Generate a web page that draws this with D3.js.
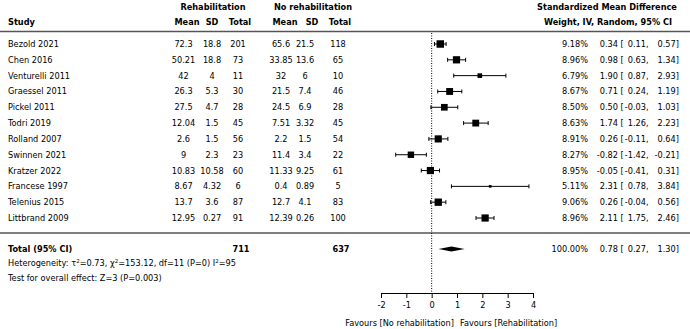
<!DOCTYPE html>
<html>
<head>
<meta charset="utf-8">
<script src="https://cdn.jsdelivr.net/npm/d3@7"></script>
<style>
  body { margin: 0; background: #fff; }
  text { font-family: "DejaVu Sans", sans-serif; font-size: 8.2px; fill: #000; }
  .b { font-weight: bold; }
</style>
</head>
<body>
<script>
/* ---------------------------------- data ---------------------------------- */
const studies = ["Bezold 2021", "Chen 2016", "Venturelli 2011", "Graessel 2011", "Pickel 2011", "Todri 2019",
  "Rolland 2007", "Swinnen 2021", "Kratzer 2022", "Francese 1997", "Telenius 2015", "Littbrand 2009"];
const rehabMean = [72.3, 50.21, 42, 26.3, 27.5, 12.04, 2.6, 9, 10.83, 8.67, 13.7, 12.95];
const rehabSD = [18.8, 18.8, 4, 5.3, 4.7, 1.5, 1.5, 2.3, 10.58, 4.32, 3.6, 0.27];
const rehabN = [201, 73, 11, 30, 28, 45, 56, 23, 60, 6, 87, 91];
const ctrlMean = [65.6, 33.85, 32, 21.5, 24.5, 7.51, 2.2, 11.4, 11.33, 0.4, 12.7, 12.39];
const ctrlSD = [21.5, 13.6, 6, 7.4, 6.9, 3.32, 1.5, 3.4, 9.25, 0.89, 4.1, 0.26];
const ctrlN = [118, 65, 10, 46, 28, 45, 54, 22, 61, 5, 83, 100];
const weights = [9.18, 8.96, 6.79, 8.67, 8.50, 8.63, 8.91, 8.27, 8.95, 5.11, 9.06, 8.96];
const smd = [0.34, 0.98, 1.90, 0.71, 0.50, 1.74, 0.26, -0.82, -0.05, 2.31, 0.26, 2.11];
const ciLow = [0.11, 0.63, 0.87, 0.24, -0.03, 1.26, -0.11, -1.42, -0.41, 0.78, -0.04, 1.75];
const ciHigh = [0.57, 1.34, 2.93, 1.19, 1.03, 2.23, 0.64, -0.21, 0.31, 3.84, 0.56, 2.46];
const total = { n1: 711, n2: 637, weight: 100, smd: 0.78, lo: 0.27, hi: 1.30 };
const axisTicks = [-2, -1, 0, 1, 2, 3, 4];

/* -------------------------------- document -------------------------------- */
const width = 690, height = 329;
const svg = d3.select("body").append("svg").attr("width", width).attr("height", height);

// scales
const x = d3.scaleLinear().domain([-2, 4]).range([381, 533]);
const y = d3.scalePoint().domain(studies).range([44, 218]);
const sq = d3.scaleLinear().domain([5, 9.2]).range([2.5, 7.5]);

const cols = { study: 8, m1: 183.5, sd1: 212, n1: 238, m2: 281, sd2: 305, n2: 338, w: 588, est: 618 };

// headers
svg.append("text").attr("class", "b").attr("x", 213).attr("y", 10).attr("text-anchor", "middle").text("Rehabilitation");
svg.append("text").attr("class", "b").attr("x", 313).attr("y", 10).attr("text-anchor", "middle").text("No rehabilitation");
svg.append("text").attr("class", "b").attr("x", cols.study).attr("y", 25).text("Study");
[["Mean", 187], ["SD", 212], ["Total", 240], ["Mean", 285], ["SD", 312], ["Total", 340]]
  .forEach(([t, cx]) => svg.append("text").attr("class", "b").attr("x", cx).attr("y", 25).attr("text-anchor", "middle").text(t));
svg.append("text").attr("class", "b").attr("x", 607).attr("y", 10).attr("text-anchor", "middle").text("Standardized Mean Difference");
svg.append("text").attr("class", "b").attr("x", 608).attr("y", 25).attr("text-anchor", "middle").text("Weight, IV, Random, 95% CI");

// separator lines
[31.5, 233].forEach(ly => svg.append("line").attr("x1", 0).attr("x2", width).attr("y1", ly).attr("y2", ly)
  .attr("stroke", "#555").attr("stroke-width", 1.5));

// zero line
svg.append("line").attr("x1", x(0)).attr("x2", x(0)).attr("y1", 33).attr("y2", 293)
  .attr("stroke", "#000").attr("stroke-width", 1).attr("stroke-dasharray", "1,1.5");

// rows
const rows = svg.selectAll("g.row").data(studies).enter().append("g").attr("class", "row")
  .attr("transform", d => `translate(0,${y(d)})`);
const cell = (sel, cx, f, anchor) => sel.append("text").attr("x", cx).attr("y", 3)
  .attr("text-anchor", anchor || "middle").text(f);
cell(rows, cols.study, d => d, "start");
cell(rows, cols.m1, (d, i) => String(rehabMean[i]));
cell(rows, cols.sd1, (d, i) => String(rehabSD[i]));
cell(rows, cols.n1, (d, i) => String(rehabN[i]));
cell(rows, cols.m2, (d, i) => String(ctrlMean[i]));
cell(rows, cols.sd2, (d, i) => String(ctrlSD[i]));
cell(rows, cols.n2, (d, i) => String(ctrlN[i]));
cell(rows, cols.w, (d, i) => weights[i].toFixed(2) + "%", "end");
cell(rows, cols.est, (d, i) => smd[i].toFixed(2), "end");
cell(rows, 620.5, "[", "start");
cell(rows, 646, (d, i) => ciLow[i].toFixed(2), "end");
cell(rows, 646, ",", "start");
cell(rows, 679, (d, i) => ciHigh[i].toFixed(2) + "]", "end");

// CI lines with caps
rows.append("line").attr("x1", (d, i) => x(ciLow[i])).attr("x2", (d, i) => x(ciHigh[i]))
  .attr("y1", 0).attr("y2", 0).attr("stroke", "#000").attr("stroke-width", 1);
rows.append("line").attr("x1", (d, i) => x(ciLow[i])).attr("x2", (d, i) => x(ciLow[i]))
  .attr("y1", -2).attr("y2", 2).attr("stroke", "#000");
rows.append("line").attr("x1", (d, i) => x(ciHigh[i])).attr("x2", (d, i) => x(ciHigh[i]))
  .attr("y1", -2).attr("y2", 2).attr("stroke", "#000");
rows.append("rect")
  .attr("x", (d, i) => x(smd[i]) - sq(weights[i]) / 2).attr("y", (d, i) => -sq(weights[i]) / 2)
  .attr("width", (d, i) => sq(weights[i])).attr("height", (d, i) => sq(weights[i]))
  .attr("fill", "#000");

// total row
const ty = 249;
svg.append("text").attr("class", "b").attr("x", cols.study).attr("y", ty + 3).text("Total (95% CI)");
svg.append("text").attr("class", "b").attr("x", 241).attr("y", ty + 3).attr("text-anchor", "middle").text(total.n1);
svg.append("text").attr("class", "b").attr("x", 341).attr("y", ty + 3).attr("text-anchor", "middle").text(total.n2);
svg.append("text").attr("x", cols.w).attr("y", ty + 3).attr("text-anchor", "end").text(total.weight.toFixed(2) + "%");
svg.append("text").attr("x", cols.est).attr("y", ty + 3).attr("text-anchor", "end").text(total.smd.toFixed(2));
svg.append("text").attr("x", 620.5).attr("y", ty + 3).text("[");
svg.append("text").attr("x", 646).attr("y", ty + 3).attr("text-anchor", "end").text(total.lo.toFixed(2));
svg.append("text").attr("x", 646).attr("y", ty + 3).text(",");
svg.append("text").attr("x", 679).attr("y", ty + 3).attr("text-anchor", "end").text(total.hi.toFixed(2) + "]");
svg.append("path")
  .attr("d", `M${x(total.lo)},${ty} L${x(total.smd)},${ty - 2.5} L${x(total.hi)},${ty} L${x(total.smd)},${ty + 2.5} Z`)
  .attr("fill", "#000");

// heterogeneity
const het = svg.append("text").attr("x", cols.study).attr("y", 266);
het.append("tspan").text("Heterogeneity: τ");
het.append("tspan").attr("dy", -3).attr("font-size", "5.5px").text("2");
het.append("tspan").attr("dy", 3).text("=0.73, χ");
het.append("tspan").attr("dy", -3).attr("font-size", "5.5px").text("2");
het.append("tspan").attr("dy", 3).text("=153.12, df=11 (P=0) I");
het.append("tspan").attr("dy", -3).attr("font-size", "5.5px").text("2");
het.append("tspan").attr("dy", 3).text("=95");
svg.append("text").attr("x", cols.study).attr("y", 281).text("Test for overall effect: Z=3 (P=0.003)");

// axis
const ax = svg.append("g").attr("transform", "translate(0,293)")
  .call(d3.axisBottom(x).tickValues(axisTicks).tickSize(5).tickSizeOuter(5).tickFormat(d => String(d)));
ax.select(".domain").attr("stroke", "#000");
ax.selectAll("text").attr("font-family", "DejaVu Sans").attr("font-size", 8.2).attr("dy", "0.9em");
ax.selectAll(".tick line").attr("stroke", "#000");

const xMid = (x(-2) + x(4)) / 2;
svg.append("text").attr("x", xMid - 3).attr("y", 326).attr("text-anchor", "end").text("Favours [No rehabilitation]");
svg.append("text").attr("x", xMid + 3).attr("y", 326).text("Favours [Rehabilitation]");
</script>
</body>
</html>
